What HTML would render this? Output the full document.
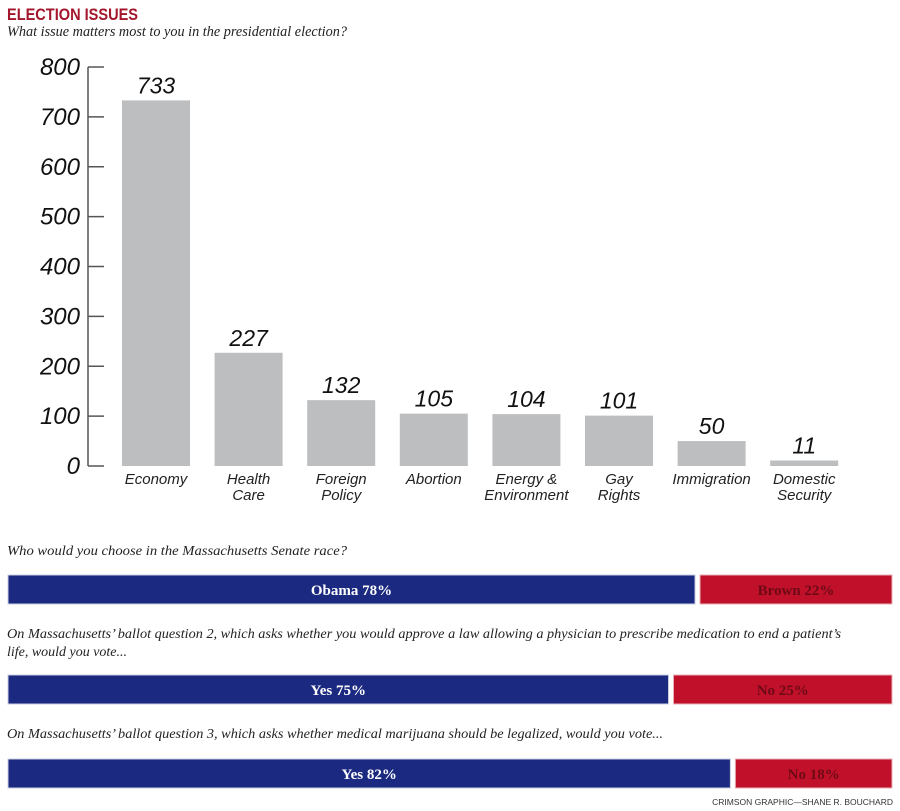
<!DOCTYPE html>
<html><head><meta charset="utf-8"><style>
body{margin:0;background:#fff;width:900px;height:811px;overflow:hidden;font-family:"Liberation Sans",sans-serif;}
svg{display:block}
</style></head><body>
<svg id="c" width="900" height="811" viewBox="0 0 900 811">
<text x="7" y="20" font-family="Liberation Sans" font-weight="bold" font-size="17" fill="#a3162b" textLength="131" lengthAdjust="spacingAndGlyphs">ELECTION ISSUES</text>
<text x="7" y="36" font-family="Liberation Serif" font-style="italic" font-size="15" fill="#222" textLength="340" lengthAdjust="spacingAndGlyphs">What issue matters most to you in the presidential election?</text>
<g id="yaxis"></g>
<g id="bars"></g>
<g id="stacks"></g>
<text x="893" y="805" text-anchor="end" font-size="8.5" fill="#333">CRIMSON GRAPHIC—SHANE R. BOUCHARD</text>
</svg>
<script>
const categories=[["Economy"],["Health","Care"],["Foreign","Policy"],["Abortion"],["Energy &","Environment"],["Gay","Rights"],["Immigration"],["Domestic","Security"]];
const values=[733,227,132,105,104,101,50,11];
const yTicks=[0,100,200,300,400,500,600,700,800];
const questions=[["Who would you choose in the Massachusetts Senate race?"],["On Massachusetts’ ballot question 2, which asks whether you would approve a law allowing a physician to prescribe medication to end a patient’s","life, would you vote..."],["On Massachusetts’ ballot question 3, which asks whether medical marijuana should be legalized, would you vote..."]];
const leftLabels=["Obama","Yes","Yes"];
const rightLabels=["Brown","No","No"];
const leftPct=[78,75,82];

const NS="http://www.w3.org/2000/svg";
function mk(t,a,p){const e=document.createElementNS(NS,t);for(const k in a)e.setAttribute(k,a[k]);p.appendChild(e);return e;}
const y0=466,y1=67,vmax=800;
function y(v){return y0-(v/vmax)*(y0-y1);}
function x(i){return 122+i*92.6;}
const bw=68;
const ya=document.getElementById('yaxis');
const ax=mk('line',{x1:88,x2:88,y1:y(800),y2:y(0),stroke:'#555','stroke-width':1.5},ya);


yTicks.forEach(t=>{
 const l=mk('line',{x1:88,x2:104,y1:y(t),y2:y(t),stroke:'#555','stroke-width':1.5},ya);
 
 
 const tx=mk('text',{x:80,y:y(t)+8,'text-anchor':'end','font-size':24,'font-style':'italic',fill:'#111'},ya);
 tx.textContent=t;
 
 
});
const bg=document.getElementById('bars');
values.forEach((v,i)=>{
 const r=mk('rect',{x:x(i),y:y(v),width:bw,height:y0-y(v),fill:'#bdbec0'},bg);
 
 
 const t=mk('text',{x:x(i)+bw/2,y:y(v)-7,'text-anchor':'middle','font-size':23,'font-style':'italic',fill:'#111'},bg);
 t.textContent=v;
 
 
 categories[i].forEach((s,j)=>{
  const c=mk('text',{x:x(i)+bw/2,y:484+j*16,'text-anchor':'middle','font-size':15,'font-style':'italic',fill:'#222'},bg);
  c.textContent=s;
  
  
 });
});
const sg=document.getElementById('stacks');
const qY=[[555],[638,656],[738]];
const qW=[[340],[834,120],[656]];
const barY=[575,675,759];
const bx=8,tw=884,gap=5,bh=29;
questions.forEach((q,i)=>{
 q.forEach((s,j)=>{
  const t=mk('text',{x:7,y:qY[i][j],'font-family':'Liberation Serif','font-style':'italic','font-size':14,fill:'#222',textLength:qW[i][j],lengthAdjust:'spacingAndGlyphs'},sg);
  t.textContent=s;
  
  
 });
 const lw=tw*leftPct[i]/100;
 const b=mk('rect',{x:bx,y:barY[i],width:lw-gap/2,height:bh,fill:'#1b2a80',stroke:'#c8cce0','stroke-width':1},sg);
 
 
 const r=mk('rect',{x:bx+lw+gap/2,y:barY[i],width:tw-lw-gap/2,height:bh,fill:'#c0102a',stroke:'#e8b0b8','stroke-width':1},sg);
 
 
 const lt=mk('text',{x:bx+(lw-gap/2)/2,y:barY[i]+20,'text-anchor':'middle','font-family':'Liberation Serif','font-weight':'bold','font-size':15,fill:'#fff'},sg);
 lt.textContent=leftLabels[i]+' '+leftPct[i]+'%';
 
 
 const rt=mk('text',{x:bx+lw+gap/2+(tw-lw-gap/2)/2,y:barY[i]+20,'text-anchor':'middle','font-family':'Liberation Serif','font-weight':'bold','font-size':15,fill:'#6e0a16'},sg);
 rt.textContent=rightLabels[i]+' '+(100-leftPct[i])+'%';
 
 
});
</script>
</body></html>
